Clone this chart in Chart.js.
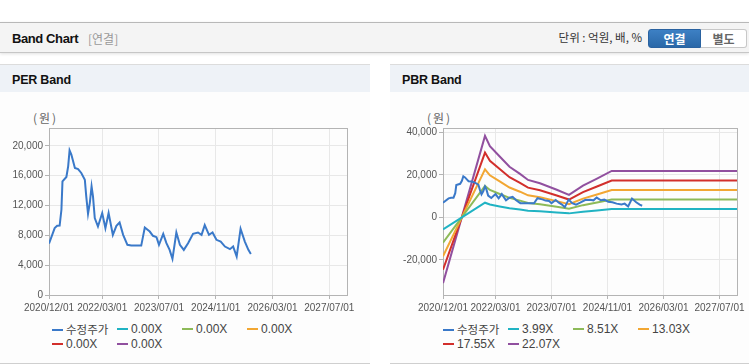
<!DOCTYPE html>
<html>
<head>
<meta charset="utf-8">
<script src="https://cdn.jsdelivr.net/npm/chart.js@4.4.1/dist/chart.umd.min.js"></script>
<style>
body { margin: 0; width: 749px; height: 364px; background: #fff; position: relative; overflow: hidden;
       font-family: "Liberation Sans", Arial, "Noto Sans CJK KR", sans-serif; }
.top { position: absolute; left: 0; top: 22px; width: 749px; height: 29px; background: #f4f4f4;
       border-top: 1px solid #b8b8b8; border-bottom: 1px solid #c6c6c6; box-shadow: 0 1px 3px rgba(0,0,0,.12); }
.top .title { position: absolute; left: 12px; top: 8px; font-size: 13px; font-weight: bold; color: #111; letter-spacing: -0.4px; }
.top .sub { position: absolute; left: 88px; top: 8px; font-size: 12px; color: #999; font-family: "Noto Sans CJK KR", sans-serif; line-height: 15px; }
.top .unit { position: absolute; right: 107px; top: 7px; font-size: 11.5px; color: #333; font-family: "Noto Sans CJK KR", sans-serif; line-height: 15px; }
.btn { position: absolute; top: 6px; height: 19px; line-height: 18px; font-size: 12px; font-weight: bold; text-align: center;
       font-family: "Noto Sans CJK KR", sans-serif; box-sizing: border-box; }
.btn.on { left: 648px; width: 53px; background: linear-gradient(#3d80c4, #2a68a8); color: #fff; border-radius: 3px 0 0 3px; border: 1px solid #2a62a0; }
.btn.off { left: 701px; width: 46px; background: #fff; color: #666; border: 1px solid #c8c8c8; border-left: none; border-radius: 0 3px 3px 0; }
.panel { position: absolute; top: 64px; height: 298px; border-top: 1px solid #dcdcdc; border-bottom: 1px solid #cfcfcf; background: #fdfdfd; }
.panel .head { height: 27px; background: #eef2f7; font-size: 12.5px; font-weight: bold; color: #111; line-height: 30px; padding-left: 12px; letter-spacing: -0.2px; }
.unitlabel { position: absolute; top: 110px; font-size: 12px; color: #666; font-family: "Noto Sans CJK KR", sans-serif; line-height: 16px; letter-spacing: 2px; }
.chartbox { position: absolute; top: 100px; height: 220px; }
.legend { position: absolute; top: 322px; width: 270px; font-family: "Liberation Sans", Arial, sans-serif; font-size: 12px; color: #444; }
.legend .item { display: inline-block; width: 65px; height: 15px; line-height: 15px; white-space: nowrap; vertical-align: top; }
.legend .mk { display: inline-block; width: 11px; height: 2px; vertical-align: middle; margin-right: 3px; position: relative; top: -1px; }
.legend .ko { font-family: "Noto Sans CJK KR", sans-serif; font-size: 11.5px; }
</style>
</head>
<body>
<div class="top">
  <span class="title">Band Chart</span>
  <span class="sub">[연결]</span>
  <span class="unit">단위 : 억원, 배, %</span>
  <div class="btn on">연결</div>
  <div class="btn off">별도</div>
</div>

<div class="panel" style="left:0;width:370px"><div class="head">PER Band</div></div>
<div class="panel" style="left:390px;width:359px"><div class="head">PBR Band</div></div>

<div class="unitlabel" style="left:33px">(원)</div>
<div class="unitlabel" style="left:427px">(원)</div>

<div class="chartbox" style="left:0;width:370px"><canvas id="perChart" width="370" height="220"></canvas></div>
<div class="chartbox" style="left:390px;width:359px"><canvas id="pbrChart" width="359" height="220"></canvas></div>

<div class="legend" id="perLegend" style="left:52px"></div>
<div class="legend" id="pbrLegend" style="left:443px"></div>

<script>
// x values are months counted from 2020/12/01
const xTickLabels = ["2020/12/01", "2022/03/01", "2023/07/01", "2024/11/01", "2026/03/01", "2027/07/01"];
const xMaxMonth = 84;

const perTicks = [0, 4000, 8000, 12000, 16000, 20000];
const pbrTicks = [-20000, 0, 20000, 40000];

// 수정주가 [month, 원]
const priceSeries = [
    [0, 6900], [1.6, 8970], [2.3, 9280], [3.0, 9300], [3.5, 11430], [3.8, 15240], [4.9, 15830],
    [5.4, 17260], [5.8, 19400], [6.3, 18830], [6.8, 17930], [7.3, 17040], [8.2, 16900], [9.1, 16370],
    [10.1, 15470], [10.5, 13220], [11.0, 10890], [11.5, 12330], [12.0, 14560], [12.4, 13220],
    [12.9, 10310], [13.8, 9190], [15.0, 10990], [15.9, 8970], [16.8, 10990], [18.0, 8070],
    [19.0, 9280], [19.9, 9720], [20.9, 8070], [22.1, 6730], [23.2, 6630], [26.0, 6630], [27.0, 9050],
    [28.4, 8510], [29.3, 7940], [30.3, 7760], [31.0, 6730], [32.2, 8200], [33.1, 6950], [34.0, 6050],
    [34.8, 4840], [35.9, 8380], [36.9, 6730], [38.0, 6050], [39.2, 6950], [40.6, 8200], [42.0, 8380],
    [43.0, 8070], [43.9, 9370], [45.1, 8070], [46.1, 8380], [47.2, 7400], [48.4, 7170], [49.6, 6500],
    [51.0, 6150], [51.9, 6500], [52.9, 5150], [54.0, 8880], [55.2, 7170], [56.2, 6050], [56.9, 5510]
];

// PBR band lines, one value per bandMonths entry
const bandMonths = [0, 12, 13.4, 16.2, 19, 22, 24.3, 27.7, 32.5, 36, 40, 44, 48.2, 84];
const pbr399  = [-5590, 6940, 6070, 5190, 4310, 3710, 3190, 2910, 2350, 1920, 2710, 3310, 3960, 3960];
const pbr851  = [-11910, 14810, 12940, 11060, 9190, 7910, 6810, 6210, 5020, 4090, 5790, 7060, 8440, 8440];
const pbr1303 = [-18240, 22670, 19810, 16940, 14070, 12120, 10420, 9510, 7690, 6250, 8860, 10820, 12930, 12930];
const pbr1755 = [-24570, 30540, 26680, 22820, 18950, 16320, 14040, 12810, 10360, 8420, 11930, 14570, 17410, 17410];
const pbr2207 = [-30900, 38400, 33550, 28690, 23840, 20530, 17660, 16110, 13020, 10590, 15010, 18320, 21890, 21890];

const perNames = ["수정주가", "0.00X", "0.00X", "0.00X", "0.00X", "0.00X"];
const pbrNames = ["수정주가", "3.99X", "8.51X", "13.03X", "17.55X", "22.07X"];
const lineColors = ["#3a79c9", "#20b3c3", "#8dba58", "#f2a733", "#d22f2c", "#91509f"];

const tickFont = { family: '"Liberation Sans", Arial, sans-serif', size: 10 };

function toMonth(label) {
    const parts = label.split("/").map(Number);
    return (parts[0] - 2020) * 12 + (parts[1] - 12);
}

function pairs(values) {
    return values.map((v, i) => ({ x: bandMonths[i], y: v }));
}

const boxPlugin = {
    id: "plotBox",
    beforeDatasetsDraw(chart) {
        const a = chart.chartArea;
        const ctx = chart.ctx;
        ctx.save();
        ctx.strokeStyle = "#b4b4b4";
        ctx.lineWidth = 1;
        ctx.strokeRect(Math.round(a.left) + 0.5, Math.round(a.top) + 0.5,
            Math.round(a.right - a.left), Math.round(a.bottom - a.top));
        ctx.restore();
    },
};

function makeChart(id, names, bands, yMin, yMax, yTicks, yWidth, padRight) {
    const datasets = names.map((name, i) => ({
        label: name,
        data: i === 0 ? priceSeries.map((p) => ({ x: p[0], y: p[1] })) : (bands[i - 1] ? pairs(bands[i - 1]) : []),
        borderColor: lineColors[i],
        backgroundColor: lineColors[i],
        borderWidth: 2,
        pointRadius: 0,
        tension: 0,
        fill: false,
    }));

    return new Chart(document.getElementById(id), {
        type: "line",
        data: { datasets },
        options: {
            responsive: false,
            animation: false,
            layout: { padding: { left: 0, right: padRight, top: 28, bottom: 0 } },
            plugins: { legend: { display: false }, tooltip: { enabled: false } },
            scales: {
                x: {
                    type: "linear",
                    min: 0,
                    max: xMaxMonth,
                    afterBuildTicks: (scale) => { scale.ticks = xTickLabels.map((l) => ({ value: toMonth(l), label: l })); },
                    afterFit: (scale) => { scale.height = 25; },
                    ticks: {
                        autoSkip: false,
                        maxRotation: 0,
                        padding: 3,
                        color: "#555",
                        font: tickFont,
                        callback: (v) => xTickLabels[xTickLabels.map(toMonth).indexOf(v)],
                    },
                    grid: { color: "#e8e8e8", tickColor: "#b4b4b4", tickLength: 4 },
                    border: { display: false },
                },
                y: {
                    min: yMin,
                    max: yMax,
                    afterBuildTicks: (scale) => { scale.ticks = yTicks.map((v) => ({ value: v })); },
                    afterFit: (scale) => { scale.width = yWidth; },
                    ticks: {
                        padding: 2,
                        color: "#555",
                        font: tickFont,
                        callback: (v) => v.toLocaleString("en-US"),
                    },
                    grid: { color: "#e8e8e8", tickColor: "#b4b4b4", tickLength: 4 },
                    border: { display: false },
                },
            },
        },
        plugins: [boxPlugin],
    });
}

function buildLegend(chart, el) {
    chart.data.datasets.forEach((ds, i) => {
        const item = document.createElement("span");
        item.className = "item";
        const mk = document.createElement("span");
        mk.className = "mk";
        mk.style.background = ds.borderColor;
        const txt = document.createElement("span");
        txt.textContent = ds.label;
        if (i === 0) txt.className = "ko";
        item.appendChild(mk);
        item.appendChild(txt);
        el.appendChild(item);
        if (i === 3) el.appendChild(document.createElement("br"));
    });
}

const perChart = makeChart("perChart", perNames, [], 0, 22400, perTicks, 49, 23);
const pbrChart = makeChart("pbrChart", pbrNames, [pbr399, pbr851, pbr1303, pbr1755, pbr2207], -36500, 42100, pbrTicks, 53, 12);

buildLegend(perChart, document.getElementById("perLegend"));
buildLegend(pbrChart, document.getElementById("pbrLegend"));
</script>
</body>
</html>
